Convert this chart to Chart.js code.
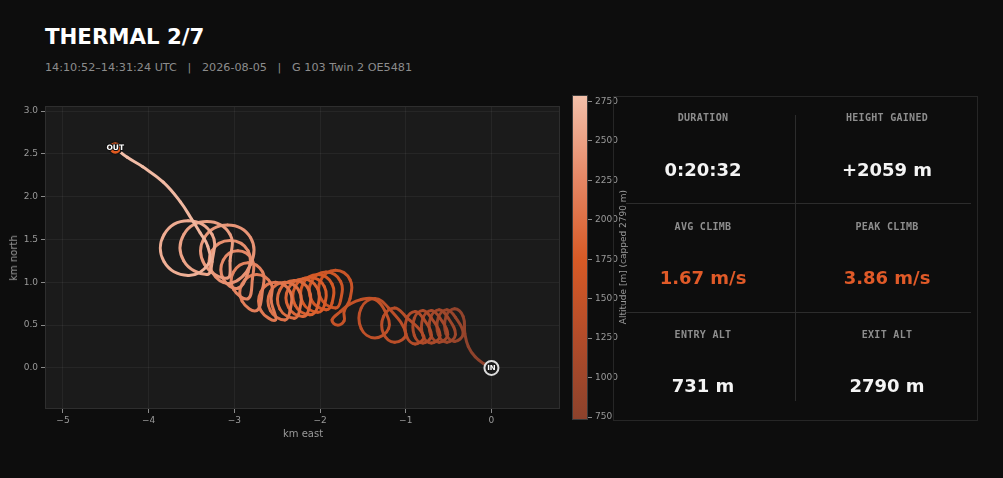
<!DOCTYPE html>
<html><head><meta charset="utf-8">
<script src="https://cdn.jsdelivr.net/npm/chart.js@4.4.0/dist/chart.umd.min.js"></script>
<style>
html,body{margin:0;padding:0;background:#0d0d0d;width:1003px;height:478px;overflow:hidden;font-family:'DejaVu Sans',sans-serif;}
.abs{position:absolute;line-height:1;white-space:pre;}
#title{left:45px;top:37px;transform:translateY(-50%);font-weight:bold;font-size:21.3px;color:#ffffff;}
#sub{left:45px;top:68px;transform:translateY(-50%);font-size:11.2px;color:#8c8c8c;}
#track{position:absolute;left:0;top:100px;}
#cbar{position:absolute;left:566px;top:90px;}
.axt{font-size:10px;color:#9a9a9a;transform:translate(-50%,-50%);}
.rot{transform:translate(-50%,-50%) rotate(-90deg);}
#panel{position:absolute;left:613px;top:96px;width:363px;height:323px;border:1px solid #262626;box-sizing:content-box;}
.line{position:absolute;background:#2c2c2c;}
.lab{font-family:'DejaVu Sans Mono',monospace;font-weight:bold;font-size:10px;color:#8e8e8e;letter-spacing:0.3px;transform:translate(-50%,-50%);}
.val{font-weight:bold;font-size:18px;color:#f4f4f4;transform:translate(-50%,-50%);}
.hl{color:#e05a28;}
</style></head>
<body>
<div id="title" class="abs">THERMAL 2/7</div>
<div id="sub" class="abs">14:10:52–14:31:24 UTC   |   2026-08-05   |   G 103 Twin 2 OE5481</div>
<canvas id="track" width="566" height="350"></canvas>
<canvas id="cbar" width="60" height="340"></canvas>
<div class="abs axt" style="left:303px;top:434px;">km east</div>
<div class="abs axt rot" style="left:14px;top:258px;">km north</div>
<div id="panel"></div>
<div class="line" style="left:795px;top:115px;width:1px;height:286px;"></div>
<div class="line" style="left:626px;top:203px;width:345px;height:1px;"></div>
<div class="line" style="left:626px;top:312px;width:345px;height:1px;"></div>
<div class="abs axt rot" style="left:623px;top:257px;font-size:9px;">Altitude [m] (capped 2790 m)</div>
<div id="stats"></div>
<script>
// ---------- data ----------
const trackEast = [
 0.00,-0.09,-0.19,-0.27,-0.31,
 -0.33,-0.43,-0.53,-0.53,-0.43,-0.33,
 -0.42,-0.52,-0.62,-0.62,-0.52,-0.42,
 -0.51,-0.61,-0.71,-0.71,-0.61,-0.51,
 -0.60,-0.70,-0.80,-0.80,-0.70,-0.60,
 -0.70,-0.80,-0.90,-0.90,-0.80,-0.70,
 -0.79,-0.89,-0.99,-0.99,-0.89,-0.79,
 -1.00,-1.13,-1.26,-1.26,-1.13,-1.00,
 -1.20,-1.36,-1.52,-1.52,-1.36,-1.20,
 -1.24,-1.36,-1.52,-1.66,-1.76,-1.86,-1.80,-1.72,-1.72,
 -1.65,-1.65,-1.82,-1.99,-1.99,-1.82,
 -1.76,-1.76,-1.93,-2.10,-2.10,-1.93,
 -1.86,-1.86,-2.03,-2.20,-2.20,-2.03,
 -1.95,-1.95,-2.12,-2.29,-2.29,-2.12,
 -2.03,-2.03,-2.20,-2.37,-2.37,-2.20,
 -2.13,-2.13,-2.30,-2.47,-2.47,-2.30,
 -2.24,-2.24,-2.41,-2.58,-2.58,-2.41,
 -2.35,-2.35,-2.52,-2.69,-2.69,-2.52,
 -2.57,-2.57,-2.74,-2.91,-2.91,-2.74,
 -2.67,-2.67,-2.84,-3.01,-3.01,-2.84,
 -2.79,-2.79,-2.96,-3.13,-3.13,-2.96,
 -2.84,-2.84,-3.05,-3.26,-3.26,-3.05,
 -2.81,-2.81,-3.08,-3.35,-3.35,-3.08,
 -3.05,-3.05,-3.32,-3.59,-3.59,-3.32,
 -3.26,-3.26,-3.54,-3.82,-3.82,-3.54,
 -3.30,-3.31,-3.40,-3.50,-3.63,-3.83,-4.07,-4.25,-4.39
];
const trackNorth = [
 0.00,0.05,0.13,0.25,0.40,
 0.60,0.69,0.60,0.40,0.31,0.40,
 0.59,0.68,0.59,0.39,0.30,0.39,
 0.59,0.68,0.59,0.39,0.30,0.39,
 0.58,0.67,0.58,0.38,0.29,0.38,
 0.58,0.67,0.58,0.38,0.29,0.38,
 0.57,0.66,0.57,0.37,0.28,0.37,
 0.60,0.70,0.60,0.40,0.30,0.40,
 0.70,0.81,0.70,0.46,0.35,0.46,
 0.66,0.80,0.80,0.74,0.66,0.56,0.50,0.55,0.66,
 0.81,1.03,1.14,1.03,0.81,0.70,
 0.79,1.01,1.12,1.01,0.79,0.68,
 0.76,0.98,1.09,0.98,0.76,0.65,
 0.73,0.95,1.06,0.95,0.73,0.62,
 0.71,0.93,1.04,0.93,0.71,0.60,
 0.69,0.91,1.02,0.91,0.69,0.58,
 0.67,0.89,1.00,0.89,0.67,0.56,
 0.67,0.89,1.00,0.89,0.67,0.56,
 0.78,0.98,1.09,0.98,0.78,0.67,
 0.92,1.12,1.23,1.12,0.92,0.81,
 1.04,1.26,1.37,1.26,1.04,0.93,
 1.12,1.37,1.49,1.37,1.12,0.99,
 1.21,1.52,1.67,1.52,1.21,1.05,
 1.25,1.56,1.71,1.56,1.25,1.09,
 1.24,1.56,1.72,1.56,1.24,1.08,
 1.22,1.42,1.58,1.74,1.94,2.17,2.35,2.46,2.57
];
const trackAlt = [
 731,745,760,778,795,
 812,828,842,856,870,884,
 900,915,930,946,961,975,
 990,1004,1018,1031,1045,1060,
 1074,1088,1101,1115,1128,1142,
 1155,1168,1180,1193,1206,1219,
 1232,1245,1257,1270,1282,1295,
 1308,1320,1332,1344,1356,1368,
 1380,1392,1403,1415,1426,1438,
 1448,1458,1468,1478,1488,1497,1506,1515,1524,
 1536,1549,1562,1575,1588,1601,
 1614,1627,1640,1653,1666,1679,
 1692,1705,1718,1731,1744,1757,
 1770,1783,1796,1809,1822,1835,
 1847,1859,1871,1883,1895,1907,
 1919,1931,1943,1955,1967,1979,
 1990,2001,2012,2023,2034,2045,
 2056,2067,2078,2089,2100,2111,
 2122,2133,2144,2155,2166,2177,
 2188,2198,2208,2218,2228,2238,
 2248,2258,2268,2278,2288,2298,
 2308,2318,2328,2338,2348,2358,
 2372,2386,2400,2414,2428,2442,
 2458,2474,2490,2506,2522,2538,
 2555,2572,2589,2606,2623,2640,
 2656,2672,2688,2704,2720,2738,2756,2774,2790
];
const xTickValues = [-5,-4,-3,-2,-1,0];
const yTickValues = [0,0.5,1,1.5,2,2.5,3];
const cbarTickValues = [750,1000,1250,1500,1750,2000,2250,2500,2750];
const altMin = 731, altMax = 2790;
const statLabels = ['DURATION','HEIGHT GAINED','AVG CLIMB','PEAK CLIMB','ENTRY ALT','EXIT ALT'];
const statValues = ['0:20:32','+2059 m','1.67 m/s','3.86 m/s','731 m','2790 m'];
const statAccent = [false,false,true,true,false,false];

// ---------- styles ----------
const cmapAlt = [731,1250,1750,2250,2790];
const cmapRGB = [[140,66,44],[178,76,42],[215,90,38],[229,134,100],[243,192,170]];
function altColor(a){
  a = Math.max(altMin, Math.min(altMax, a));
  let i = 0;
  while (i < cmapAlt.length-2 && a > cmapAlt[i+1]) i++;
  const f = (a - cmapAlt[i]) / (cmapAlt[i+1] - cmapAlt[i]);
  const c = cmapRGB[i].map((v,k)=>Math.round(v + (cmapRGB[i+1][k]-v)*f));
  return 'rgb('+c.join(',')+')';
}
const fmtMinus = v => v < 0 ? '\u2212' + Math.abs(v) : String(v);
const noPadH = s => { s.paddingLeft = 0; s.paddingRight = 0; };
const noPadV = s => { s.paddingTop = 0; s.paddingBottom = 0; };

// ---------- stats panel ----------
const colX = [703, 887], labY = [118,227,335], valY = [170,278,386];
const stats = document.getElementById('stats');
statLabels.forEach((l,i)=>{
  const c = i % 2, r = Math.floor(i/2);
  const a = document.createElement('div');
  a.className = 'abs lab'; a.style.left = colX[c]+'px'; a.style.top = labY[r]+'px'; a.textContent = l;
  const b = document.createElement('div');
  b.className = 'abs val' + (statAccent[i] ? ' hl' : ''); b.style.left = colX[c]+'px'; b.style.top = valY[r]+'px'; b.textContent = statValues[i];
  stats.appendChild(a); stats.appendChild(b);
});

// ---------- charts ----------
Chart.defaults.font.family = "'DejaVu Sans', sans-serif";
const plotBg = {
  id:'plotBg',
  beforeDraw(chart){
    const {ctx, chartArea:a} = chart;
    ctx.save(); ctx.fillStyle = '#1b1b1b';
    ctx.fillRect(a.left, a.top, a.right-a.left, a.bottom-a.top); ctx.restore();
  },
  afterDraw(chart){
    const {ctx, chartArea:a} = chart;
    ctx.save(); ctx.strokeStyle = '#2e2e2e'; ctx.lineWidth = 1;
    ctx.strokeRect(a.left+0.5, a.top+0.5, a.right-a.left-1, a.bottom-a.top-1); ctx.restore();
  }
};
const markerText = {
  id:'markerText',
  afterDatasetsDraw(chart){
    const {ctx} = chart, xs = chart.scales.x, ys = chart.scales.y;
    const n = trackEast.length - 1;
    ctx.save();
    ctx.textAlign = 'center'; ctx.textBaseline = 'middle';
    ctx.font = "bold 7.5px 'DejaVu Sans'";
    const ox = xs.getPixelForValue(trackEast[n]), oy = ys.getPixelForValue(trackNorth[n]);
    ctx.lineWidth = 2; ctx.strokeStyle = '#111'; ctx.lineJoin = 'round';
    ctx.strokeText('OUT', ox, oy+0.5);
    ctx.fillStyle = '#ffffff'; ctx.fillText('OUT', ox, oy+0.5);
    const ix = xs.getPixelForValue(trackEast[0]), iy = ys.getPixelForValue(trackNorth[0]);
    ctx.font = "bold 7px 'DejaVu Sans'";
    ctx.fillText('IN', ix, iy+0.5);
    ctx.restore();
  }
};
const last = trackEast.length - 1;
new Chart(document.getElementById('track'), {
  type:'scatter',
  data:{datasets:[
    {data: trackEast.map((e,i)=>({x:e, y:trackNorth[i]})), showLine:true, borderWidth:3, tension:0.42,
     pointRadius:0, pointHoverRadius:0, pointHitRadius:0, borderCapStyle:'round', borderJoinStyle:'round',
     borderColor: altColor(altMin),
     segment:{borderColor: c => altColor((trackAlt[c.p0DataIndex] + trackAlt[c.p1DataIndex]) / 2)},
     order:3},
    {data:[{x:trackEast[0], y:trackNorth[0]}], pointRadius:7, backgroundColor:'#1a1a1a', borderColor:'#dcdcdc', borderWidth:2, order:2},
    {data:[{x:trackEast[last], y:trackNorth[last]}], pointRadius:6.5, backgroundColor:'#e05a20', borderColor:'#151515', borderWidth:1.5, order:1}
  ]},
  options:{
    responsive:false, animation:false, events:[],
    layout:{autoPadding:false, padding:{left:0,right:6,top:6,bottom:0}},
    plugins:{legend:{display:false}, tooltip:{enabled:false}},
    scales:{
      x:{type:'linear', min:-5.21, max:0.8,
         afterBuildTicks: s => { s.ticks = xTickValues.map(v=>({value:v})); },
         afterFit: s => { s.height = 41; noPadH(s); },
         grid:{color:'rgba(255,255,255,0.05)', tickColor:'#8a8a8a', tickLength:4, drawTicks:true},
         border:{display:false},
         ticks:{color:'#9a9a9a', font:{size:9}, padding:2, maxRotation:0, autoSkip:false, callback: v => fmtMinus(v)}},
      y:{type:'linear', min:-0.48, max:3.06,
         afterBuildTicks: s => { s.ticks = yTickValues.map(v=>({value:v})); },
         afterFit: s => { s.width = 45; noPadV(s); },
         grid:{color:'rgba(255,255,255,0.05)', tickColor:'#8a8a8a', tickLength:4, drawTicks:true},
         border:{display:false},
         ticks:{color:'#9a9a9a', font:{size:9}, padding:3, autoSkip:false, callback: v => Number(v).toFixed(1)}}
    }
  },
  plugins:[plotBg, markerText]
});

const cbarFill = {
  id:'cbarFill',
  beforeDatasetsDraw(chart){
    const {ctx, chartArea:a} = chart, ys = chart.scales.y;
    const g = ctx.createLinearGradient(0, ys.getPixelForValue(altMin), 0, ys.getPixelForValue(altMax));
    cmapAlt.forEach((v,i)=>{ g.addColorStop((v-altMin)/(altMax-altMin), 'rgb('+cmapRGB[i].join(',')+')'); });
    ctx.save(); ctx.fillStyle = g;
    ctx.fillRect(a.left, a.top, a.right-a.left, a.bottom-a.top);
    ctx.strokeStyle = '#3a3a3a'; ctx.lineWidth = 1;
    ctx.strokeRect(a.left+0.5, a.top+0.5, a.right-a.left-1, a.bottom-a.top-1);
    ctx.restore();
  }
};
new Chart(document.getElementById('cbar'), {
  type:'scatter',
  data:{datasets:[{data:[]}]},
  options:{
    responsive:false, animation:false, events:[],
    layout:{autoPadding:false, padding:{left:6,right:0,top:5,bottom:10}},
    plugins:{legend:{display:false}, tooltip:{enabled:false}},
    scales:{
      x:{display:false},
      y:{type:'linear', position:'right', min:altMin, max:altMax,
         afterBuildTicks: s => { s.ticks = cbarTickValues.map(v=>({value:v})); },
         afterFit: s => { s.width = 38; noPadV(s); },
         grid:{drawOnChartArea:false, tickColor:'#8a8a8a', tickLength:4, drawTicks:true},
         border:{display:false},
         ticks:{color:'#9a9a9a', font:{size:9}, padding:3, autoSkip:false, callback: v => String(v)}}
    }
  },
  plugins:[cbarFill]
});
</script>
</body></html>
